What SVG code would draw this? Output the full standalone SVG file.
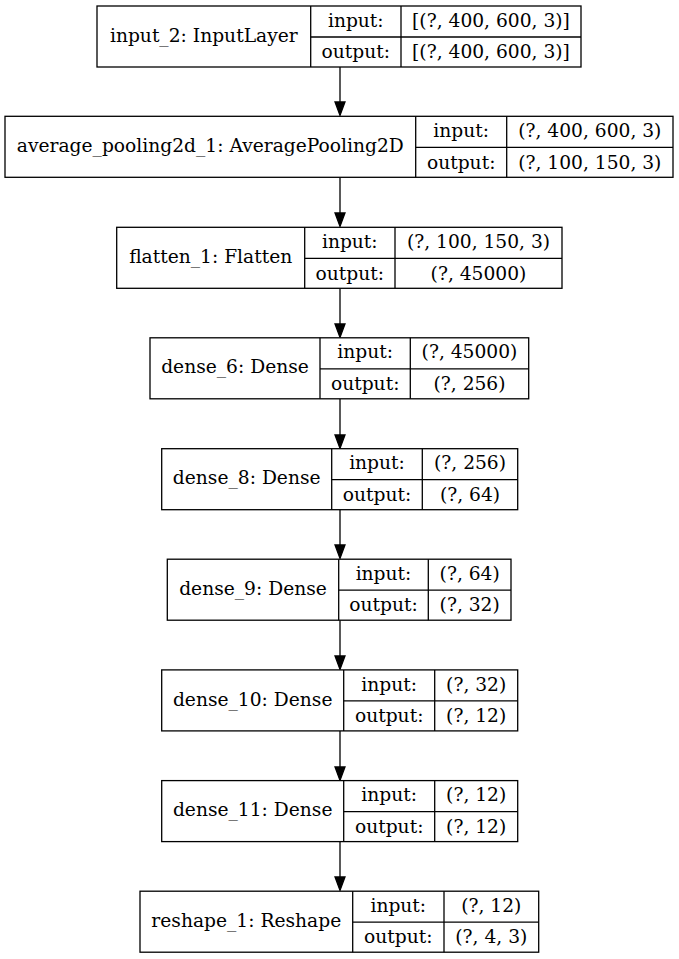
<svg xmlns="http://www.w3.org/2000/svg" width="679" height="959" viewBox="0 0 679 959">
<style>
.box{fill:#fff;stroke:#000;stroke-width:1.3}
.ln{stroke:#000;stroke-width:1.3;fill:none}
text{font-family:"DejaVu Serif",serif;font-size:18.67px;fill:#000;text-anchor:middle}
.edge{stroke:#000;stroke-width:1.3;fill:none}
.ah{fill:#000;stroke:#000;stroke-width:1.3}
</style>
<rect width="679" height="959" fill="#fff"/>
<g id="connectors">
<line class="edge" x1="340" y1="67" x2="340" y2="102"/><polygon class="ah" points="335,102 345,102 340,115.5"/>
<line class="edge" x1="340" y1="177.5" x2="340" y2="213"/><polygon class="ah" points="335,213 345,213 340,226.5"/>
<line class="edge" x1="340" y1="288.5" x2="340" y2="324"/><polygon class="ah" points="335,324 345,324 340,337.5"/>
<line class="edge" x1="340" y1="399" x2="340" y2="435"/><polygon class="ah" points="335,435 345,435 340,448.5"/>
<line class="edge" x1="340" y1="509.5" x2="340" y2="545"/><polygon class="ah" points="335,545 345,545 340,558.5"/>
<line class="edge" x1="340" y1="620.3" x2="340" y2="656"/><polygon class="ah" points="335,656 345,656 340,669.5"/>
<line class="edge" x1="340" y1="730.7" x2="340" y2="767"/><polygon class="ah" points="335,767 345,767 340,780.5"/>
<line class="edge" x1="340" y1="841.7" x2="340" y2="877"/><polygon class="ah" points="335,877 345,877 340,890.5"/>
</g>
<g id="input_2" transform="translate(0,6)">
<rect class="box" x="97" y="0" width="484" height="61"/>
<line class="ln" x1="310.7" y1="0" x2="310.7" y2="61"/><line class="ln" x1="401" y1="0" x2="401" y2="61"/><line class="ln" x1="310.7" y1="31" x2="581" y2="31"/>
<text x="203.8" y="35.7">input_2: InputLayer</text>
<text x="355.8" y="20.7">input:</text><text x="355.8" y="52.3">output:</text>
<text x="491" y="20.7">[(?, 400, 600, 3)]</text><text x="491" y="52.3">[(?, 400, 600, 3)]</text>
</g>
<g id="average_pooling2d_1" transform="translate(0,116.3)">
<rect class="box" x="5" y="0" width="668" height="61"/>
<line class="ln" x1="415.7" y1="0" x2="415.7" y2="61"/><line class="ln" x1="506.7" y1="0" x2="506.7" y2="61"/><line class="ln" x1="415.7" y1="31" x2="673" y2="31"/>
<text x="210.3" y="35.7">average_pooling2d_1: AveragePooling2D</text>
<text x="461.2" y="20.7">input:</text><text x="461.2" y="52.3">output:</text>
<text x="589.8" y="20.7">(?, 400, 600, 3)</text><text x="589.8" y="52.3">(?, 100, 150, 3)</text>
</g>
<g id="flatten_1" transform="translate(0,227.3)">
<rect class="box" x="116.7" y="0" width="445.3" height="61"/>
<line class="ln" x1="304.7" y1="0" x2="304.7" y2="61"/><line class="ln" x1="395" y1="0" x2="395" y2="61"/><line class="ln" x1="304.7" y1="31" x2="562" y2="31"/>
<text x="210.7" y="35.7">flatten_1: Flatten</text>
<text x="349.8" y="20.7">input:</text><text x="349.8" y="52.3">output:</text>
<text x="478.5" y="20.7">(?, 100, 150, 3)</text><text x="478.5" y="52.3">(?, 45000)</text>
</g>
<g id="dense_6" transform="translate(0,337.8)">
<rect class="box" x="150" y="0" width="378.7" height="61"/>
<line class="ln" x1="320" y1="0" x2="320" y2="61"/><line class="ln" x1="410.3" y1="0" x2="410.3" y2="61"/><line class="ln" x1="320" y1="31" x2="528.7" y2="31"/>
<text x="235" y="35.7">dense_6: Dense</text>
<text x="365.2" y="20.7">input:</text><text x="365.2" y="52.3">output:</text>
<text x="469.5" y="20.7">(?, 45000)</text><text x="469.5" y="52.3">(?, 256)</text>
</g>
<g id="dense_8" transform="translate(0,448.7)">
<rect class="box" x="161.7" y="0" width="356" height="61"/>
<line class="ln" x1="331.7" y1="0" x2="331.7" y2="61"/><line class="ln" x1="422.3" y1="0" x2="422.3" y2="61"/><line class="ln" x1="331.7" y1="31" x2="517.7" y2="31"/>
<text x="246.7" y="35.7">dense_8: Dense</text>
<text x="377" y="20.7">input:</text><text x="377" y="52.3">output:</text>
<text x="470" y="20.7">(?, 256)</text><text x="470" y="52.3">(?, 64)</text>
</g>
<g id="dense_9" transform="translate(0,559.2)">
<rect class="box" x="167.3" y="0" width="343.7" height="61"/>
<line class="ln" x1="338.7" y1="0" x2="338.7" y2="61"/><line class="ln" x1="428.3" y1="0" x2="428.3" y2="61"/><line class="ln" x1="338.7" y1="31" x2="511" y2="31"/>
<text x="253" y="35.7">dense_9: Dense</text>
<text x="383.5" y="20.7">input:</text><text x="383.5" y="52.3">output:</text>
<text x="469.7" y="20.7">(?, 64)</text><text x="469.7" y="52.3">(?, 32)</text>
</g>
<g id="dense_10" transform="translate(0,669.9)">
<rect class="box" x="161.7" y="0" width="356" height="61"/>
<line class="ln" x1="343.7" y1="0" x2="343.7" y2="61"/><line class="ln" x1="434.7" y1="0" x2="434.7" y2="61"/><line class="ln" x1="343.7" y1="31" x2="517.7" y2="31"/>
<text x="252.7" y="35.7">dense_10: Dense</text>
<text x="389.2" y="20.7">input:</text><text x="389.2" y="52.3">output:</text>
<text x="476.2" y="20.7">(?, 32)</text><text x="476.2" y="52.3">(?, 12)</text>
</g>
<g id="dense_11" transform="translate(0,780.6)">
<rect class="box" x="161.7" y="0" width="356" height="61"/>
<line class="ln" x1="343.7" y1="0" x2="343.7" y2="61"/><line class="ln" x1="434.7" y1="0" x2="434.7" y2="61"/><line class="ln" x1="343.7" y1="31" x2="517.7" y2="31"/>
<text x="252.7" y="35.7">dense_11: Dense</text>
<text x="389.2" y="20.7">input:</text><text x="389.2" y="52.3">output:</text>
<text x="476.2" y="20.7">(?, 12)</text><text x="476.2" y="52.3">(?, 12)</text>
</g>
<g id="reshape_1" transform="translate(0,891.2)">
<rect class="box" x="140" y="0" width="398.7" height="61"/>
<line class="ln" x1="352.7" y1="0" x2="352.7" y2="61"/><line class="ln" x1="444" y1="0" x2="444" y2="61"/><line class="ln" x1="352.7" y1="31" x2="538.7" y2="31"/>
<text x="246.3" y="35.7">reshape_1: Reshape</text>
<text x="398.3" y="20.7">input:</text><text x="398.3" y="52.3">output:</text>
<text x="491.3" y="20.7">(?, 12)</text><text x="491.3" y="52.3">(?, 4, 3)</text>
</g>
</svg>
